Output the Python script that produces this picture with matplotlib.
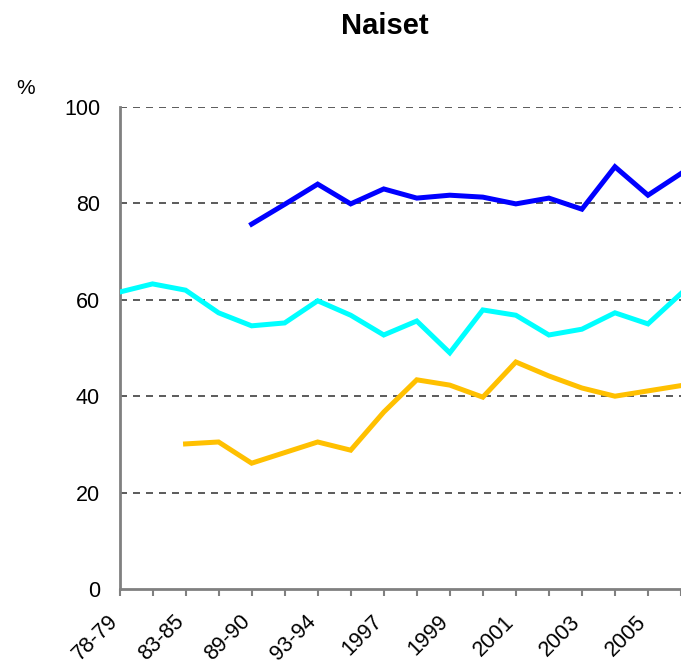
import numpy as np
import matplotlib.pyplot as plt
import matplotlib.transforms as mtransforms

# categories (every other one is labelled on the axis)
categories = ["78-79", "80-81", "83-85", "86-87", "89-90", "91-92", "93-94", "1995",
              "1997", "1998", "1999", "2000", "2001", "2002", "2003", "2004", "2005", "2006"]

# series values, None where the series has no data
blue = [None, None, None, None, 75.7, 79.8, 84.0, 79.9, 83.0, 81.1, 81.7, 81.3,
        79.9, 81.1, 78.8, 87.6, 81.7, 86.2]
cyan = [61.6, 63.3, 62.0, 57.3, 54.6, 55.2, 59.8, 56.8, 52.7, 55.6, 49.0, 57.9,
        56.8, 52.7, 53.9, 57.3, 55.0, 61.3]
orange = [None, None, 30.1, 30.5, 26.1, 28.3, 30.5, 28.8, 36.7, 43.4, 42.3, 39.8,
          47.1, 44.2, 41.7, 40.0, 41.1, 42.2]

yticks = [0, 20, 40, 60, 80, 100]

plt.rcParams['font.family'] = ['Liberation Sans', 'DejaVu Sans']

fig = plt.figure(figsize=(6.81, 6.68), dpi=100)
ax = fig.add_axes([119.5 / 681, 79 / 668, 1 - 119.5 / 681, 482 / 668])

x = np.arange(len(categories))
def arr(v):
    return np.array([np.nan if a is None else a for a in v], dtype=float)

ax.plot(x, arr(blue), color="#0000FF", lw=3.6, solid_joinstyle="miter", zorder=3)
ax.plot(x, arr(cyan), color="#00FFFF", lw=3.6, solid_joinstyle="miter", zorder=3)
ax.plot(x, arr(orange), color="#FFC000", lw=3.6, solid_joinstyle="miter", zorder=3)

ax.set_ylim(0, 100)
ax.set_xlim(0, 561.5 / 33.72)
ax.set_yticks(yticks)
ax.set_yticklabels([str(v) for v in yticks], fontsize=15.5)
for v in yticks[1:]:
    ax.axhline(v, color="#404040", lw=1.2, dashes=(4.2, 3.6), zorder=1)

ax.set_xticks(x)
ax.set_xticklabels([c if i % 2 == 0 else "" for i, c in enumerate(categories)],
                   fontsize=15.5, rotation=45, ha="right", va="top",
                   rotation_mode="anchor")
ax.tick_params(axis="x", length=5, color="#808080", width=1.5, pad=11)
ax.tick_params(axis="y", length=0, pad=14)

# shift x labels a bit to the left, like the original
shift = mtransforms.ScaledTranslation(-12 / 100, 0, fig.dpi_scale_trans)
for lab in ax.get_xticklabels():
    lab.set_transform(lab.get_transform() + shift)

for s in ["top", "right"]:
    ax.spines[s].set_visible(False)
for s in ["left", "bottom"]:
    ax.spines[s].set_color("#808080")
    ax.spines[s].set_linewidth(2)

fig.text(385 / 681, 1 - 34 / 668, "Naiset", ha="center", va="baseline",
         fontsize=21, fontweight="bold")
fig.text(26 / 681, 1 - 94 / 668, "%", ha="center", va="baseline", fontsize=15)

fig.savefig("out.png", dpi=100)
